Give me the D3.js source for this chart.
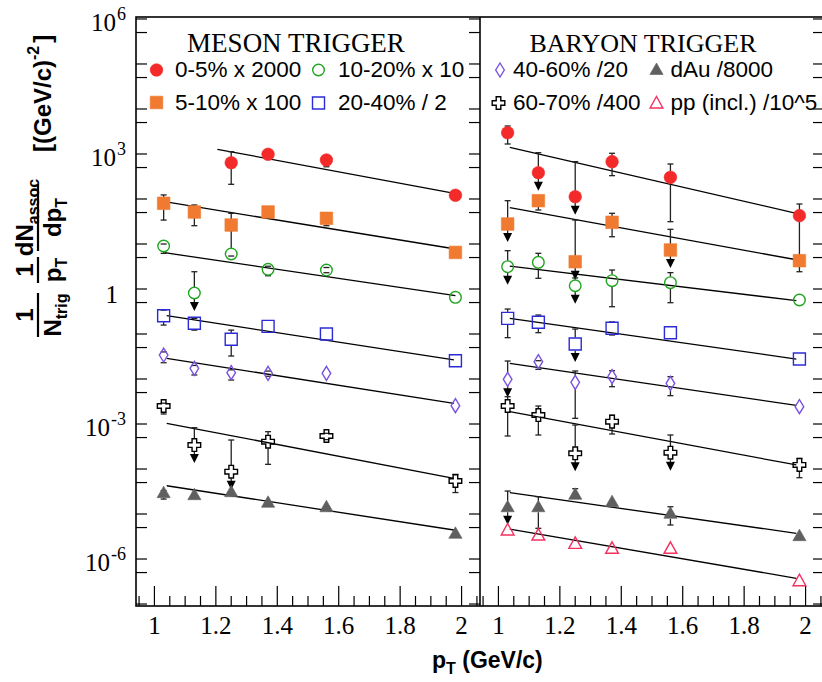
<!DOCTYPE html>
<html><head><meta charset="utf-8">
<script src="https://cdn.jsdelivr.net/npm/d3@7/dist/d3.min.js"></script>
<style>body{margin:0;background:#fff}svg{display:block}</style>
</head><body>
<svg id="c" width="822" height="682"></svg>
<script>
// ---------------- DATA ----------------
const pT = [1.03, 1.13, 1.25, 1.37, 1.56, 1.98];
const xTicksMajor = [1, 1.2, 1.4, 1.6, 1.8, 2];
const xTickLabels = ["1", "1.2", "1.4", "1.6", "1.8", "2"];
const yDecades = [-6, -3, 0, 3, 6];
const yLabels = ["10|-6", "10|-3", "1", "10|3", "10|6"];

// MESON TRIGGER panel
const m05 = [null, null, 640, 985, 735, 121];
const m05Lo = [null, null, 212, 820, 520, null];
const m05Hi = [null, null, 1125, 1100, 800, null];
const m510 = [80.2, 51.4, 26.4, 51.4, 37.2, 6.5];
const m510Lo = [34, 25.5, 26.4, null, 25.5, null];
const m510Hi = [123, 73.6, 48.1, null, 45, null];
const m1020 = [9.03, 0.815, 6.0, 2.74, 2.64, 0.654];
const m1020Lo = [6.2, null, 5.4, 1.97, 2.3, null];
const m1020Hi = [10, 2.42, 20, 3.2, 3.0, null];
const m1020UL = [0, 1, 0, 0, 0, 0];
const m2040 = [0.255, 0.173, 0.0762, 0.148, 0.1, 0.0255];
const m2040Lo = [0.158, 0.122, 0.0324, null, null, null];
const m2040Hi = [0.34, 0.223, 0.122, null, null, null];
const m4060 = [0.0341, 0.01727, 0.0138, 0.01337, 0.01337, 0.00255];
const m4060Lo = [0.023, 0.0123, 0.0095, 0.0115, null, null];
const m4060Hi = [0.04, 0.02, 0.016, 0.015, null, null];
const m6070 = [0.00251, 3.41e-4, 8.71e-5, 4.04e-4, 5.41e-4, 5.41e-5];
const m6070Lo = [0.00167, null, null, 1.27e-4, 4.5e-4, 3.0e-5];
const m6070Hi = [0.0029, 8.28e-4, 4.41e-4, 6.75e-4, 6.2e-4, 7.6e-5];
const m6070UL = [0, 1, 1, 0, 0, 0];
const mdAu = [2.98e-5, 2.69e-5, 3.13e-5, 1.82e-5, 1.45e-5, 3.72e-6];
const mdAuLo = [2.15e-5, null, null, null, null, null];
const mdAuHi = [3.3e-5, null, null, null, null, null];

// BARYON TRIGGER panel
const b05 = [2974, 384, 112.5, 675, 303, 42.6];
const b05Lo = [1668, null, null, 330, 31.3, 5.4];
const b05Hi = [4190, 1069, 675, 1037, 599, 77.4];
const b05UL = [0, 1, 1, 0, 0, 0];
const b510 = [27.8, 91.7, 4.04, 30.3, 7.36, 4.26];
const b510Lo = [null, 57, null, 14.5, null, 2.42];
const b510Hi = [91.7, 116.6, 34.1, 48.1, 21.2, 5.41];
const b510UL = [1, 0, 1, 0, 1, 0];
const b1020 = [3.13, 3.92, 1.18, 1.53, 1.38, 0.57];
const b1020Lo = [null, 1.73, null, 0.404, 0.496, null];
const b1020Hi = [7.1, 6.21, 1.76, 2.64, 2.31, null];
const b1020UL = [1, 0, 1, 0, 0, 0];
const b2040 = [0.223, 0.182, 0.06, 0.134, 0.107, 0.0278];
const b2040Lo = [0.083, 0.107, null, 0.095, null, null];
const b2040Hi = [0.359, 0.264, 0.129, 0.185, null, null];
const b2040UL = [0, 0, 1, 0, 0, 0];
const b4060 = [0.00984, 0.0243, 0.00844, 0.01126, 0.00802, 0.00243];
const b4060Lo = [null, 0.0164, 0.001337, 0.00675, 0.00426, null];
const b4060Hi = [0.0251, 0.0255, 0.01507, 0.0153, 0.01126, null];
const b4060UL = [1, 0, 0, 0, 0, 0];
const b6070 = [0.00251, 0.00158, 2.23e-4, 0.001127, 2.31e-4, 1.23e-4];
const b6070Lo = [5.41e-4, 5.7e-4, null, 6e-4, null, 6.41e-5];
const b6070Hi = [0.00404, 0.00251, 9.5e-4, 0.00158, 5.7e-4, 1.73e-4];
const b6070UL = [0, 0, 1, 0, 1, 0];
const bdAu = [1.45e-5, 1.45e-5, 2.74e-5, 1.88e-5, 1.035e-5, 3.3e-6];
const bdAuLo = [null, 4.81e-6, null, null, 5.7e-6, null];
const bdAuHi = [3.24e-5, 2.42e-5, 3.65e-5, null, 1.45e-5, null];
const bdAuUL = [1, 0, 0, 0, 0, 0];
const bpp = [4.41e-6, 3.41e-6, 2.23e-6, 1.73e-6, 1.73e-6, 3.3e-7];

// exponential fit lines: [[pT start, value], [pT end, value]]
const fitM05 = [[1.205, 1271], [1.99, 129]];
const fitM510 = [[1.033, 87.1], [1.98, 7.74]];
const fitM1020 = [[1.033, 6.41], [1.98, 0.71]];
const fitM2040 = [[1.04, 0.255], [1.975, 0.0265]];
const fitM4060 = [[1.04, 0.0288], [1.975, 0.00288]];
const fitM6070 = [[1.04, 1.036e-3], [1.975, 6.21e-5]];
const fitMdAu = [[1.04, 4.25e-5], [1.975, 4.41e-6]];
const fitB05 = [[1.037, 1409], [1.97, 48.1]];
const fitB510 = [[1.037, 64.1], [1.975, 4.41]];
const fitB1020 = [[1.037, 3.24], [1.97, 0.55]];
const fitB2040 = [[1.037, 0.223], [1.97, 0.0278]];
const fitB4060 = [[1.037, 0.0223], [1.97, 0.0026]];
const fitB6070 = [[1.037, 0.00188], [1.97, 1.23e-4]];
const fitBdAu = [[1.037, 2.98e-5], [1.97, 3.72e-6]];
const fitBpp = [[1.037, 4.64e-6], [1.97, 3.73e-7]];

const legendMeson = ["0-5% x 2000", "10-20% x 10", "5-10% x 100", "20-40% / 2"];
const legendBaryon = ["40-60% /20", "dAu /8000", "60-70% /400", "pp (incl.) /10^5"];

// ---------------- STYLES ----------------
const C = {red:"#f42a2a", orange:"#f07a30", green:"#1fa51f", blue:"#2b2bd6",
           purple:"#7a52e0", gray:"#5f5f5f", pink:"#f5305f", black:"#000"};
const zero = [0,0,0,0,0,0];
const none6 = [null,null,null,null,null,null];
const mesonSeries = [
  {v:m05, lo:m05Lo, hi:m05Hi, ul:zero, m:"fcircle", c:C.red, fit:fitM05},
  {v:m510, lo:m510Lo, hi:m510Hi, ul:zero, m:"fsquare", c:C.orange, fit:fitM510},
  {v:m1020, lo:m1020Lo, hi:m1020Hi, ul:m1020UL, m:"ocircle", c:C.green, fit:fitM1020},
  {v:m2040, lo:m2040Lo, hi:m2040Hi, ul:zero, m:"osquare", c:C.blue, fit:fitM2040},
  {v:m4060, lo:m4060Lo, hi:m4060Hi, ul:zero, m:"odiamond", c:C.purple, fit:fitM4060},
  {v:m6070, lo:m6070Lo, hi:m6070Hi, ul:m6070UL, m:"ocross", c:C.black, fit:fitM6070},
  {v:mdAu, lo:mdAuLo, hi:mdAuHi, ul:zero, m:"ftriangle", c:C.gray, fit:fitMdAu}
];
const baryonSeries = [
  {v:b05, lo:b05Lo, hi:b05Hi, ul:b05UL, m:"fcircle", c:C.red, fit:fitB05},
  {v:b510, lo:b510Lo, hi:b510Hi, ul:b510UL, m:"fsquare", c:C.orange, fit:fitB510},
  {v:b1020, lo:b1020Lo, hi:b1020Hi, ul:b1020UL, m:"ocircle", c:C.green, fit:fitB1020},
  {v:b2040, lo:b2040Lo, hi:b2040Hi, ul:b2040UL, m:"osquare", c:C.blue, fit:fitB2040},
  {v:b4060, lo:b4060Lo, hi:b4060Hi, ul:b4060UL, m:"odiamond", c:C.purple, fit:fitB4060},
  {v:b6070, lo:b6070Lo, hi:b6070Hi, ul:b6070UL, m:"ocross", c:C.black, fit:fitB6070},
  {v:bdAu, lo:bdAuLo, hi:bdAuHi, ul:bdAuUL, m:"ftriangle", c:C.gray, fit:fitBdAu},
  {v:bpp, lo:none6, hi:none6, ul:zero, m:"otriangle", c:C.pink, fit:fitBpp}
];

// ---------------- SCALES ----------------
const svg = d3.select("#c");
const TOP = 17, BOT = 606;
const y = d3.scaleLog().domain([Math.pow(10,-7.044), Math.pow(10,6.044)]).range([BOT, TOP]);
const xL = d3.scaleLinear().domain([0.94, 2.06]).range([136, 480]);
const xR = d3.scaleLinear().domain([0.94, 2.06]).range([480, 824]);

const serif = "'Liberation Serif','Times New Roman',Times,serif";
const sans = "'Liberation Sans',Arial,Helvetica,sans-serif";

// marker paths
const markerHalf = {fcircle:6, ocircle:6, fsquare:6, osquare:6.5, odiamond:7, ocross:6.5, ftriangle:5.5, otriangle:6};
function markerPath(t){
  switch(t){
    case "fcircle": return d3.symbol(d3.symbolCircle, Math.PI*6.3*6.3)();
    case "ocircle": return d3.symbol(d3.symbolCircle, Math.PI*5.8*5.8)();
    case "fsquare": return "M-6.3,-6.3H6.3V6.3H-6.3Z";
    case "osquare": return "M-6,-6H6V6H-6Z";
    case "odiamond": return "M0,-7L4.3,0L0,7L-4.3,0Z";
    case "ocross": return "M-2.3,-6.3H2.3V-2.3H6.3V2.3H2.3V6.3H-2.3V2.3H-6.3V-2.3H-2.3Z";
    case "ftriangle": return "M0,-6.5L6.6,5L-6.6,5Z";
    case "otriangle": return "M0,-6.5L6.4,5L-6.4,5Z";
  }
}
function drawMarker(g, t, c, px, py){
  const filled = t[0] === "f";
  g.append("path").attr("d", markerPath(t)).attr("transform", `translate(${px},${py})`)
    .attr("fill", filled ? c : "none").attr("stroke", c)
    .attr("stroke-width", filled ? 0.6 : 1.4);
}

// ---------------- FRAME & AXES ----------------
const axes = svg.append("g");
function panelAxes(x, leftTicks, rightTicks){
  const [x0, x1] = x.range();
  const minor = d3.range(0.95, 2.06, 0.05).map(d => +d.toFixed(2));
  minor.forEach(d => {
    const isMaj = xTicksMajor.some(m => Math.abs(m - d) < 1e-6);
    axes.append("line").attr("x1", x(d)).attr("x2", x(d)).attr("y1", BOT).attr("y2", BOT - (isMaj ? 20 : 10))
      .attr("stroke", "#000").attr("stroke-width", 1.2);
  });
  xTicksMajor.forEach((d, i) => {
    axes.append("text").attr("x", x(d)).attr("y", 634).attr("text-anchor", "middle")
      .style("font-family", serif).attr("font-size", 25).text(xTickLabels[i]);
  });
  const yt = [];
  for (let k = -7; k <= 6; k++){ yt.push(Math.pow(10,k)); yt.push(0.5*Math.pow(10,k)); }
  yt.filter(v => y(v) > TOP + 1 && y(v) < BOT - 1).forEach(v => {
    if (leftTicks) axes.append("line").attr("x1", x0).attr("x2", x0 + 11).attr("y1", y(v)).attr("y2", y(v)).attr("stroke", "#000").attr("stroke-width", 1.2);
    if (rightTicks) axes.append("line").attr("x1", x1).attr("x2", x1 - 11).attr("y1", y(v)).attr("y2", y(v)).attr("stroke", "#000").attr("stroke-width", 1.2);
  });
}
panelAxes(xL, true, true);
panelAxes(xR, false, true);
axes.append("rect").attr("x", 136).attr("y", TOP).attr("width", 824 - 136).attr("height", BOT - TOP)
  .attr("fill", "none").attr("stroke", "#000").attr("stroke-width", 1.6);
axes.append("line").attr("x1", 480).attr("x2", 480).attr("y1", TOP).attr("y2", BOT).attr("stroke", "#000").attr("stroke-width", 1.6);

// y tick labels
yDecades.forEach((k, i) => {
  const parts = yLabels[i].split("|");
  const t = svg.append("text").style("font-family", serif).attr("font-size", 25).attr("text-anchor", "end");
  if (parts.length === 1){
    t.attr("x", 118).attr("y", y(Math.pow(10,k)) + 14).text(parts[0]);
  } else {
    t.attr("x", 126).attr("y", y(Math.pow(10,k)) + 12);
    t.append("tspan").text(parts[0]);
    t.append("tspan").attr("dx", 1).attr("dy", -11).attr("font-size", 18).text(parts[1]);
  }
});

// ---------------- DATA MARKS ----------------
function drawPanel(x, series){
  const g = svg.append("g");
  series.forEach(s => {
    g.append("path").attr("d", d3.line().x(d => x(d[0])).y(d => y(d[1]))(s.fit))
      .attr("fill", "none").attr("stroke", "#000").attr("stroke-width", 1.3);
  });
  series.forEach(s => {
    const h = markerHalf[s.m];
    s.v.forEach((v, i) => {
      if (v == null) return;
      const px = x(pT[i]), py = y(v);
      const st = (y1, y2) => g.append("line").attr("x1", px).attr("x2", px).attr("y1", y1).attr("y2", y2)
        .attr("stroke", "#222").attr("stroke-width", 1.3);
      const cap = yy => g.append("line").attr("x1", px - 3).attr("x2", px + 3).attr("y1", yy).attr("y2", yy)
        .attr("stroke", "#222").attr("stroke-width", 1.3);
      if (s.hi[i] != null){
        const yh = y(s.hi[i]);
        if (yh < py - h) st(yh, py - h);
        cap(yh);
      }
      if (s.ul[i]){
        st(py + h, py + 10);
        g.append("path").attr("d", `M${px-4.5},${py+9}L${px+4.5},${py+9}L${px},${py+18}Z`).attr("fill", "#000");
      } else if (s.lo[i] != null){
        const yl = y(s.lo[i]);
        if (yl > py + h) st(py + h, yl);
        cap(yl);
      }
    });
  });
  series.forEach(s => {
    s.v.forEach((v, i) => { if (v != null) drawMarker(g, s.m, s.c, x(pT[i]), y(v)); });
  });
}
drawPanel(xL, mesonSeries);
drawPanel(xR, baryonSeries);

// ---------------- LEGENDS ----------------
const lg = svg.append("g");
lg.append("text").attr("x", 296).attr("y", 52).attr("text-anchor", "middle").style("font-family", serif).attr("font-size", 27).text("MESON TRIGGER");
lg.append("text").attr("x", 643).attr("y", 52).attr("text-anchor", "middle").style("font-family", serif).attr("font-size", 26).text("BARYON TRIGGER");
const legPos = [
  {mx:156.5, my:70, tx:175, ty:77, m:"fcircle", c:C.red, t:legendMeson[0]},
  {mx:318.5, my:70, tx:338, ty:77, m:"ocircle", c:C.green, t:legendMeson[1]},
  {mx:156.5, my:102.5, tx:175, ty:109.5, m:"fsquare", c:C.orange, t:legendMeson[2]},
  {mx:318.5, my:103, tx:338, ty:109.5, m:"osquare", c:C.blue, t:legendMeson[3]},
  {mx:500, my:70, tx:513, ty:77, m:"odiamond", c:C.purple, t:legendBaryon[0]},
  {mx:656.5, my:69.5, tx:670.5, ty:77, m:"ftriangle", c:C.gray, t:legendBaryon[1]},
  {mx:498.5, my:103, tx:513, ty:109.5, m:"ocross", c:C.black, t:legendBaryon[2]},
  {mx:656.5, my:103, tx:670.5, ty:109.5, m:"otriangle", c:C.pink, t:legendBaryon[3]}
];
legPos.forEach(p => {
  drawMarker(lg, p.m, p.c, p.mx, p.my);
  lg.append("text").attr("x", p.tx).attr("y", p.ty).style("font-family", sans).attr("font-size", 22.5).text(p.t);
});

// ---------------- AXIS TITLES ----------------
const xt = svg.append("text").attr("x", 432).attr("y", 668).style("font-family", sans).attr("font-weight", "bold").attr("font-size", 23);
xt.append("tspan").text("p");
xt.append("tspan").attr("dy", 6).attr("font-size", 16).text("T");
xt.append("tspan").attr("dy", -6).text(" (GeV/c)");

const gt = svg.append("g").attr("transform", "translate(38,0) rotate(-90)")
  .style("font-family", sans).attr("font-weight", "bold");
function bar(u0, u1){ gt.append("line").attr("x1", -u1).attr("x2", -u0).attr("y1", 0).attr("y2", 0).attr("stroke", "#000").attr("stroke-width", 2.2); }
function tx(uc, v, main, sub, subDy){
  const t = gt.append("text").attr("x", -uc).attr("y", v).attr("text-anchor", "middle").attr("font-size", 24);
  t.append("tspan").text(main);
  if (sub) t.append("tspan").attr("dy", subDy).attr("font-size", 16).text(sub);
  return t;
}
bar(293, 337); tx(315, -5, "1"); tx(315, 23, "N", "trig", 6);
bar(257, 283); tx(270, -5, "1"); tx(270, 23, "p", "T", 6);
bar(184, 251); tx(217.5, -5, "dN", "assoc", 6); tx(217.5, 23, "dp", "T", 6);
const br = gt.append("text").attr("x", -152).attr("y", 13).attr("font-size", 24);
br.append("tspan").text("[(GeV/c)");
br.append("tspan").attr("dy", -12).attr("font-size", 16).text("-2");
br.append("tspan").attr("dy", 12).attr("dx", 3).text("]");
</script>
</body></html>
